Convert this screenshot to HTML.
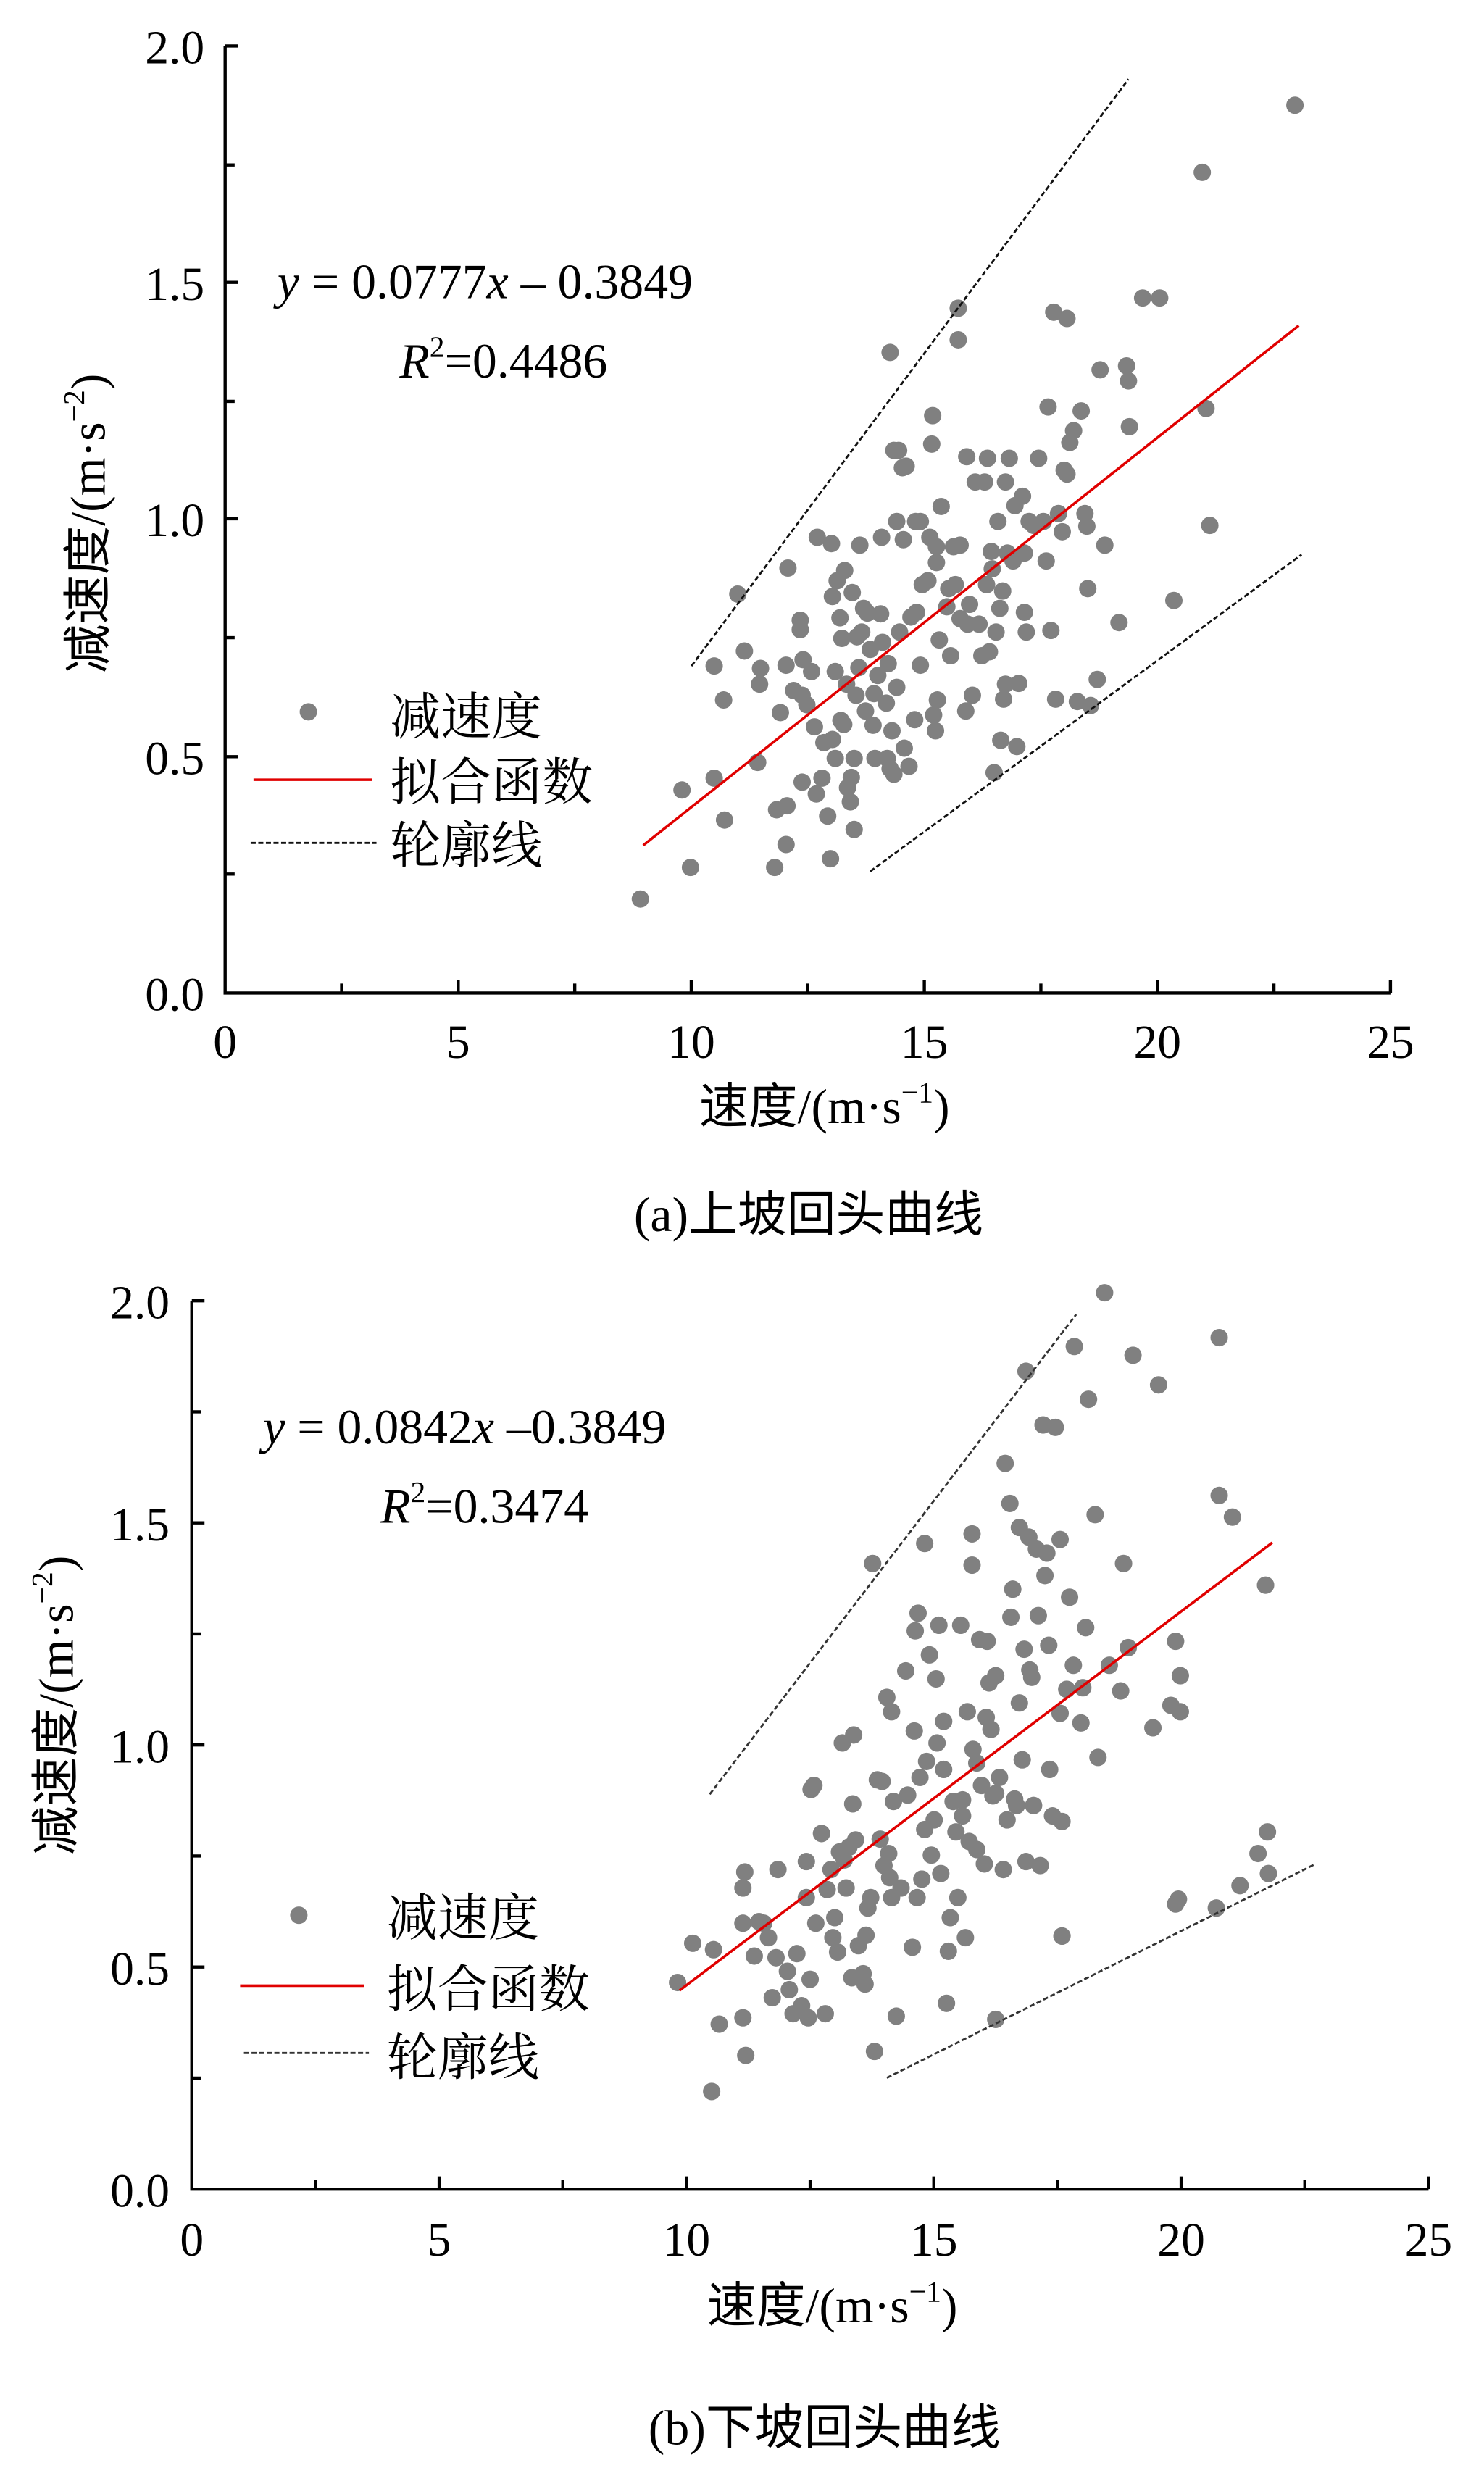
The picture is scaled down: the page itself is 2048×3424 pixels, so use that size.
<!DOCTYPE html>
<html><head><meta charset="utf-8"><style>
html,body{margin:0;padding:0;background:#fff}
svg{display:block}
text{font-family:"Liberation Serif","Noto Serif CJK SC","Noto Sans CJK SC",serif;fill:#000}
.cj{font-family:"Liberation Serif","Noto Sans CJK SC",sans-serif}
</style></head><body>
<svg width="2048" height="3424" viewBox="0 0 936 1564" preserveAspectRatio="none" xmlns="http://www.w3.org/2000/svg">
<!-- ===== TOP CHART ===== -->
<g stroke="#000" stroke-width="2" fill="none">
<path d="M142,29 V626 H877"/>
<path d="M142,29h8 M142,104h6 M142,178h8 M142,253h6 M142,327h8 M142,402h6 M142,477h8 M142,551h6"/>
<path d="M215.5,626v-6 M289,626v-8 M362.5,626v-6 M436,626v-8 M509.5,626v-6 M583,626v-8 M656.5,626v-6 M730,626v-8 M803.5,626v-6 M877,626v-8"/>
</g>
<g font-size="30" text-anchor="end">
<text x="129" y="40">2.0</text><text x="129" y="189">1.5</text><text x="129" y="338">1.0</text><text x="129" y="488">0.5</text><text x="129" y="637">0.0</text>
</g>
<g font-size="30" text-anchor="middle">
<text x="142" y="667">0</text><text x="289" y="667">5</text><text x="436" y="667">10</text><text x="583" y="667">15</text><text x="730" y="667">20</text><text x="877" y="667">25</text>
</g>
<g transform="translate(142,29) scale(0.5966,0.4979) translate(-235,-58)" fill="#808080">
<ellipse cx="674" cy="1138" rx="9.2" ry="11"/><ellipse cx="727" cy="1098" rx="9.2" ry="11"/><ellipse cx="718" cy="1000" rx="9.2" ry="11"/><ellipse cx="752" cy="985" rx="9.2" ry="11"/><ellipse cx="763" cy="1038" rx="9.2" ry="11"/><ellipse cx="762" cy="886" rx="9.2" ry="11"/><ellipse cx="752" cy="843" rx="9.2" ry="11"/><ellipse cx="777" cy="752" rx="9.2" ry="11"/><ellipse cx="784" cy="824" rx="9.2" ry="11"/><ellipse cx="800" cy="866" rx="9.2" ry="11"/><ellipse cx="801" cy="846" rx="9.2" ry="11"/><ellipse cx="798" cy="965" rx="9.2" ry="11"/><ellipse cx="816" cy="1098" rx="9.2" ry="11"/><ellipse cx="818" cy="1025" rx="9.2" ry="11"/><ellipse cx="828" cy="1069" rx="9.2" ry="11"/><ellipse cx="829" cy="1020" rx="9.2" ry="11"/><ellipse cx="822" cy="902" rx="9.2" ry="11"/><ellipse cx="828" cy="842" rx="9.2" ry="11"/><ellipse cx="830" cy="719" rx="9.2" ry="11"/><ellipse cx="836" cy="874" rx="9.2" ry="11"/><ellipse cx="843" cy="785" rx="9.2" ry="11"/><ellipse cx="843" cy="797" rx="9.2" ry="11"/><ellipse cx="846" cy="835" rx="9.2" ry="11"/><ellipse cx="850" cy="892" rx="9.2" ry="11"/><ellipse cx="855" cy="850" rx="9.2" ry="11"/><ellipse cx="845" cy="990" rx="9.2" ry="11"/><ellipse cx="860" cy="1005" rx="9.2" ry="11"/><ellipse cx="866" cy="985" rx="9.2" ry="11"/><ellipse cx="861" cy="680" rx="9.2" ry="11"/><ellipse cx="872" cy="1033" rx="9.2" ry="11"/><ellipse cx="875" cy="1087" rx="9.2" ry="11"/><ellipse cx="877" cy="936" rx="9.2" ry="11"/><ellipse cx="877" cy="755" rx="9.2" ry="11"/><ellipse cx="880" cy="850" rx="9.2" ry="11"/><ellipse cx="876" cy="688" rx="9.2" ry="11"/><ellipse cx="882" cy="735" rx="9.2" ry="11"/><ellipse cx="885" cy="782" rx="9.2" ry="11"/><ellipse cx="887" cy="808" rx="9.2" ry="11"/><ellipse cx="886" cy="912" rx="9.2" ry="11"/><ellipse cx="889" cy="917" rx="9.2" ry="11"/><ellipse cx="890" cy="722" rx="9.2" ry="11"/><ellipse cx="892" cy="866" rx="9.2" ry="11"/><ellipse cx="896" cy="1015" rx="9.2" ry="11"/><ellipse cx="893" cy="997" rx="9.2" ry="11"/><ellipse cx="897" cy="984" rx="9.2" ry="11"/><ellipse cx="898" cy="750" rx="9.2" ry="11"/><ellipse cx="900" cy="960" rx="9.2" ry="11"/><ellipse cx="902" cy="880" rx="9.2" ry="11"/><ellipse cx="906" cy="690" rx="9.2" ry="11"/><ellipse cx="903" cy="806" rx="9.2" ry="11"/><ellipse cx="905" cy="845" rx="9.2" ry="11"/><ellipse cx="908" cy="800" rx="9.2" ry="11"/><ellipse cx="910" cy="770" rx="9.2" ry="11"/><ellipse cx="912" cy="900" rx="9.2" ry="11"/><ellipse cx="914" cy="776" rx="9.2" ry="11"/><ellipse cx="917" cy="822" rx="9.2" ry="11"/><ellipse cx="920" cy="918" rx="9.2" ry="11"/><ellipse cx="921" cy="878" rx="9.2" ry="11"/><ellipse cx="922" cy="960" rx="9.2" ry="11"/><ellipse cx="925" cy="855" rx="9.2" ry="11"/><ellipse cx="928" cy="777" rx="9.2" ry="11"/><ellipse cx="929" cy="680" rx="9.2" ry="11"/><ellipse cx="930" cy="813" rx="9.2" ry="11"/><ellipse cx="934" cy="890" rx="9.2" ry="11"/><ellipse cx="936" cy="840" rx="9.2" ry="11"/><ellipse cx="938" cy="973" rx="9.2" ry="11"/><ellipse cx="940" cy="925" rx="9.2" ry="11"/><ellipse cx="942" cy="980" rx="9.2" ry="11"/><ellipse cx="945" cy="870" rx="9.2" ry="11"/><ellipse cx="947" cy="570" rx="9.2" ry="11"/><ellipse cx="945" cy="660" rx="9.2" ry="11"/><ellipse cx="948" cy="800" rx="9.2" ry="11"/><ellipse cx="952" cy="683" rx="9.2" ry="11"/><ellipse cx="953" cy="947" rx="9.2" ry="11"/><ellipse cx="955" cy="590" rx="9.2" ry="11"/><ellipse cx="958" cy="970" rx="9.2" ry="11"/><ellipse cx="960" cy="781" rx="9.2" ry="11"/><ellipse cx="964" cy="911" rx="9.2" ry="11"/><ellipse cx="966" cy="775" rx="9.2" ry="11"/><ellipse cx="970" cy="660" rx="9.2" ry="11"/><ellipse cx="970" cy="842" rx="9.2" ry="11"/><ellipse cx="972" cy="740" rx="9.2" ry="11"/><ellipse cx="978" cy="735" rx="9.2" ry="11"/><ellipse cx="980" cy="680" rx="9.2" ry="11"/><ellipse cx="982" cy="562" rx="9.2" ry="11"/><ellipse cx="983" cy="526" rx="9.2" ry="11"/><ellipse cx="984" cy="905" rx="9.2" ry="11"/><ellipse cx="986" cy="925" rx="9.2" ry="11"/><ellipse cx="987" cy="692" rx="9.2" ry="11"/><ellipse cx="987" cy="712" rx="9.2" ry="11"/><ellipse cx="988" cy="886" rx="9.2" ry="11"/><ellipse cx="990" cy="810" rx="9.2" ry="11"/><ellipse cx="992" cy="641" rx="9.2" ry="11"/><ellipse cx="998" cy="768" rx="9.2" ry="11"/><ellipse cx="1000" cy="745" rx="9.2" ry="11"/><ellipse cx="1002" cy="830" rx="9.2" ry="11"/><ellipse cx="1005" cy="692" rx="9.2" ry="11"/><ellipse cx="1007" cy="740" rx="9.2" ry="11"/><ellipse cx="1010" cy="430" rx="9.2" ry="11"/><ellipse cx="1010" cy="390" rx="9.2" ry="11"/><ellipse cx="1012" cy="783" rx="9.2" ry="11"/><ellipse cx="1018" cy="900" rx="9.2" ry="11"/><ellipse cx="1019" cy="578" rx="9.2" ry="11"/><ellipse cx="1020" cy="790" rx="9.2" ry="11"/><ellipse cx="1022" cy="765" rx="9.2" ry="11"/><ellipse cx="1025" cy="880" rx="9.2" ry="11"/><ellipse cx="1028" cy="610" rx="9.2" ry="11"/><ellipse cx="1032" cy="790" rx="9.2" ry="11"/><ellipse cx="1038" cy="610" rx="9.2" ry="11"/><ellipse cx="1040" cy="740" rx="9.2" ry="11"/><ellipse cx="1041" cy="580" rx="9.2" ry="11"/><ellipse cx="1043" cy="825" rx="9.2" ry="11"/><ellipse cx="1045" cy="698" rx="9.2" ry="11"/><ellipse cx="1046" cy="720" rx="9.2" ry="11"/><ellipse cx="1048" cy="978" rx="9.2" ry="11"/><ellipse cx="1050" cy="800" rx="9.2" ry="11"/><ellipse cx="1052" cy="660" rx="9.2" ry="11"/><ellipse cx="1054" cy="770" rx="9.2" ry="11"/><ellipse cx="1055" cy="937" rx="9.2" ry="11"/><ellipse cx="1057" cy="748" rx="9.2" ry="11"/><ellipse cx="1058" cy="885" rx="9.2" ry="11"/><ellipse cx="1060" cy="610" rx="9.2" ry="11"/><ellipse cx="1062" cy="700" rx="9.2" ry="11"/><ellipse cx="1064" cy="580" rx="9.2" ry="11"/><ellipse cx="1068" cy="710" rx="9.2" ry="11"/><ellipse cx="1070" cy="640" rx="9.2" ry="11"/><ellipse cx="1072" cy="945" rx="9.2" ry="11"/><ellipse cx="1074" cy="865" rx="9.2" ry="11"/><ellipse cx="1078" cy="628" rx="9.2" ry="11"/><ellipse cx="1080" cy="700" rx="9.2" ry="11"/><ellipse cx="1080" cy="775" rx="9.2" ry="11"/><ellipse cx="1082" cy="800" rx="9.2" ry="11"/><ellipse cx="1085" cy="660" rx="9.2" ry="11"/><ellipse cx="1090" cy="665" rx="9.2" ry="11"/><ellipse cx="1095" cy="580" rx="9.2" ry="11"/><ellipse cx="1100" cy="660" rx="9.2" ry="11"/><ellipse cx="1103" cy="710" rx="9.2" ry="11"/><ellipse cx="1105" cy="515" rx="9.2" ry="11"/><ellipse cx="1108" cy="798" rx="9.2" ry="11"/><ellipse cx="1111" cy="395" rx="9.2" ry="11"/><ellipse cx="1113" cy="885" rx="9.2" ry="11"/><ellipse cx="1116" cy="650" rx="9.2" ry="11"/><ellipse cx="1120" cy="673" rx="9.2" ry="11"/><ellipse cx="1122" cy="595" rx="9.2" ry="11"/><ellipse cx="1125" cy="403" rx="9.2" ry="11"/><ellipse cx="1125" cy="600" rx="9.2" ry="11"/><ellipse cx="1128" cy="560" rx="9.2" ry="11"/><ellipse cx="1132" cy="545" rx="9.2" ry="11"/><ellipse cx="1136" cy="888" rx="9.2" ry="11"/><ellipse cx="1140" cy="520" rx="9.2" ry="11"/><ellipse cx="1144" cy="650" rx="9.2" ry="11"/><ellipse cx="1146" cy="666" rx="9.2" ry="11"/><ellipse cx="1147" cy="745" rx="9.2" ry="11"/><ellipse cx="1150" cy="893" rx="9.2" ry="11"/><ellipse cx="1157" cy="860" rx="9.2" ry="11"/><ellipse cx="1160" cy="468" rx="9.2" ry="11"/><ellipse cx="1165" cy="690" rx="9.2" ry="11"/><ellipse cx="1180" cy="788" rx="9.2" ry="11"/><ellipse cx="1188" cy="463" rx="9.2" ry="11"/><ellipse cx="1190" cy="482" rx="9.2" ry="11"/><ellipse cx="1191" cy="540" rx="9.2" ry="11"/><ellipse cx="1223" cy="377" rx="9.2" ry="11"/><ellipse cx="1205" cy="377" rx="9.2" ry="11"/><ellipse cx="1238" cy="760" rx="9.2" ry="11"/><ellipse cx="1268" cy="218" rx="9.2" ry="11"/><ellipse cx="1272" cy="517" rx="9.2" ry="11"/><ellipse cx="1276" cy="665" rx="9.2" ry="11"/><ellipse cx="1366" cy="133" rx="9.2" ry="11"/><ellipse cx="1060" cy="866" rx="9.2" ry="11"/><ellipse cx="1035" cy="830" rx="9.2" ry="11"/><ellipse cx="965" cy="660" rx="9.2" ry="11"/><ellipse cx="900" cy="1050" rx="9.2" ry="11"/><ellipse cx="880" cy="960" rx="9.2" ry="11"/><ellipse cx="868" cy="940" rx="9.2" ry="11"/><ellipse cx="858" cy="920" rx="9.2" ry="11"/><ellipse cx="845" cy="880" rx="9.2" ry="11"/><ellipse cx="938" cy="446" rx="9.2" ry="11"/><ellipse cx="942" cy="570" rx="9.2" ry="11"/><ellipse cx="951" cy="592" rx="9.2" ry="11"/><ellipse cx="935" cy="960" rx="9.2" ry="11"/><ellipse cx="1012" cy="690" rx="9.2" ry="11"/>
<ellipse cx="323" cy="901" rx="9.2" ry="11"/>
<line x1="677" y1="1070" x2="1370" y2="412" stroke="#e00000" stroke-width="3.6" vector-effect="non-scaling-stroke"/>
<line x1="728" y1="843" x2="1190" y2="100" stroke="#111" stroke-width="2.8" stroke-dasharray="7,3.5" vector-effect="non-scaling-stroke"/>
<line x1="917" y1="1103" x2="1373" y2="702" stroke="#111" stroke-width="2.8" stroke-dasharray="7,3.5" vector-effect="non-scaling-stroke"/>
<line x1="265" y1="987" x2="390" y2="987" stroke="#e00000" stroke-width="3.6" vector-effect="non-scaling-stroke"/>
<line x1="262" y1="1067" x2="395" y2="1067" stroke="#111" stroke-width="2.8" stroke-dasharray="7,3.5" vector-effect="non-scaling-stroke"/>
</g>
<g font-size="32" class="cj">
<text x="246" y="463">减速度</text><text x="246" y="504">拟合函数</text><text x="246" y="544">轮廓线</text>
</g>
<text x="175" y="188" font-size="31"><tspan font-style="italic">y</tspan> = 0.0777<tspan font-style="italic">x</tspan> – 0.3849</text>
<text x="252" y="238" font-size="31"><tspan font-style="italic">R</tspan><tspan font-size="19" dy="-13">2</tspan><tspan dy="13">=0.4486</tspan></text>
<text transform="translate(66,330) rotate(-90)" text-anchor="middle" font-size="31" class="cj">减速度/(m·s<tspan font-size="19" dy="-13">−2</tspan><tspan dy="13">)</tspan></text>
<text x="520" y="708" text-anchor="middle" font-size="31" class="cj">速度/(m·s<tspan font-size="19" dy="-13">−1</tspan><tspan dy="13">)</tspan></text>
<text x="510" y="776" text-anchor="middle" font-size="31" class="cj">(a)上坡回头曲线</text>

<!-- ===== BOTTOM CHART ===== -->
<g stroke="#000" stroke-width="2" fill="none">
<path d="M121,820 V1380 H901"/>
<path d="M121,820h8 M121,890h6 M121,960h8 M121,1030h6 M121,1100h8 M121,1170h6 M121,1240h8 M121,1310h6"/>
<path d="M199,1380v-6 M277,1380v-8 M355,1380v-6 M433,1380v-8 M511,1380v-6 M589,1380v-8 M667,1380v-6 M745,1380v-8 M823,1380v-6 M901,1380v-8"/>
</g>
<g font-size="30" text-anchor="end">
<text x="107" y="831">2.0</text><text x="107" y="971">1.5</text><text x="107" y="1111">1.0</text><text x="107" y="1251">0.5</text><text x="107" y="1391">0.0</text>
</g>
<g font-size="30" text-anchor="middle">
<text x="121" y="1422">0</text><text x="277" y="1422">5</text><text x="433" y="1422">10</text><text x="589" y="1422">15</text><text x="745" y="1422">20</text><text x="901" y="1422">25</text>
</g>
<g transform="translate(121,820) scale(0.5972,0.505) translate(-201,-85)" fill="#808080">
<ellipse cx="714" cy="936" rx="9.2" ry="10.9"/><ellipse cx="730" cy="887" rx="9.2" ry="10.9"/><ellipse cx="752" cy="895" rx="9.2" ry="10.9"/><ellipse cx="750" cy="1072" rx="9.2" ry="10.9"/><ellipse cx="758" cy="988" rx="9.2" ry="10.9"/><ellipse cx="783" cy="980" rx="9.2" ry="10.9"/><ellipse cx="786" cy="1027" rx="9.2" ry="10.9"/><ellipse cx="783" cy="818" rx="9.2" ry="10.9"/><ellipse cx="785" cy="798" rx="9.2" ry="10.9"/><ellipse cx="783" cy="862" rx="9.2" ry="10.9"/><ellipse cx="795" cy="903" rx="9.2" ry="10.9"/><ellipse cx="800" cy="860" rx="9.2" ry="10.9"/><ellipse cx="805" cy="862" rx="9.2" ry="10.9"/><ellipse cx="810" cy="880" rx="9.2" ry="10.9"/><ellipse cx="814" cy="955" rx="9.2" ry="10.9"/><ellipse cx="820" cy="795" rx="9.2" ry="10.9"/><ellipse cx="818" cy="905" rx="9.2" ry="10.9"/><ellipse cx="830" cy="922" rx="9.2" ry="10.9"/><ellipse cx="832" cy="945" rx="9.2" ry="10.9"/><ellipse cx="836" cy="975" rx="9.2" ry="10.9"/><ellipse cx="840" cy="900" rx="9.2" ry="10.9"/><ellipse cx="845" cy="965" rx="9.2" ry="10.9"/><ellipse cx="850" cy="830" rx="9.2" ry="10.9"/><ellipse cx="850" cy="785" rx="9.2" ry="10.9"/><ellipse cx="852" cy="980" rx="9.2" ry="10.9"/><ellipse cx="854" cy="932" rx="9.2" ry="10.9"/><ellipse cx="855" cy="695" rx="9.2" ry="10.9"/><ellipse cx="858" cy="690" rx="9.2" ry="10.9"/><ellipse cx="860" cy="862" rx="9.2" ry="10.9"/><ellipse cx="866" cy="750" rx="9.2" ry="10.9"/><ellipse cx="870" cy="975" rx="9.2" ry="10.9"/><ellipse cx="872" cy="820" rx="9.2" ry="10.9"/><ellipse cx="876" cy="795" rx="9.2" ry="10.9"/><ellipse cx="878" cy="880" rx="9.2" ry="10.9"/><ellipse cx="880" cy="855" rx="9.2" ry="10.9"/><ellipse cx="883" cy="898" rx="9.2" ry="10.9"/><ellipse cx="885" cy="773" rx="9.2" ry="10.9"/><ellipse cx="888" cy="637" rx="9.2" ry="10.9"/><ellipse cx="890" cy="783" rx="9.2" ry="10.9"/><ellipse cx="892" cy="818" rx="9.2" ry="10.9"/><ellipse cx="895" cy="767" rx="9.2" ry="10.9"/><ellipse cx="898" cy="930" rx="9.2" ry="10.9"/><ellipse cx="899" cy="713" rx="9.2" ry="10.9"/><ellipse cx="900" cy="627" rx="9.2" ry="10.9"/><ellipse cx="902" cy="758" rx="9.2" ry="10.9"/><ellipse cx="905" cy="890" rx="9.2" ry="10.9"/><ellipse cx="910" cy="925" rx="9.2" ry="10.9"/><ellipse cx="912" cy="938" rx="9.2" ry="10.9"/><ellipse cx="913" cy="877" rx="9.2" ry="10.9"/><ellipse cx="915" cy="843" rx="9.2" ry="10.9"/><ellipse cx="918" cy="830" rx="9.2" ry="10.9"/><ellipse cx="920" cy="413" rx="9.2" ry="10.9"/><ellipse cx="922" cy="1022" rx="9.2" ry="10.9"/><ellipse cx="925" cy="683" rx="9.2" ry="10.9"/><ellipse cx="928" cy="757" rx="9.2" ry="10.9"/><ellipse cx="930" cy="685" rx="9.2" ry="10.9"/><ellipse cx="932" cy="790" rx="9.2" ry="10.9"/><ellipse cx="935" cy="580" rx="9.2" ry="10.9"/><ellipse cx="937" cy="775" rx="9.2" ry="10.9"/><ellipse cx="938" cy="805" rx="9.2" ry="10.9"/><ellipse cx="940" cy="598" rx="9.2" ry="10.9"/><ellipse cx="940" cy="830" rx="9.2" ry="10.9"/><ellipse cx="942" cy="710" rx="9.2" ry="10.9"/><ellipse cx="945" cy="978" rx="9.2" ry="10.9"/><ellipse cx="950" cy="818" rx="9.2" ry="10.9"/><ellipse cx="955" cy="547" rx="9.2" ry="10.9"/><ellipse cx="957" cy="702" rx="9.2" ry="10.9"/><ellipse cx="962" cy="892" rx="9.2" ry="10.9"/><ellipse cx="964" cy="622" rx="9.2" ry="10.9"/><ellipse cx="965" cy="497" rx="9.2" ry="10.9"/><ellipse cx="967" cy="830" rx="9.2" ry="10.9"/><ellipse cx="968" cy="475" rx="9.2" ry="10.9"/><ellipse cx="970" cy="680" rx="9.2" ry="10.9"/><ellipse cx="972" cy="807" rx="9.2" ry="10.9"/><ellipse cx="975" cy="388" rx="9.2" ry="10.9"/><ellipse cx="975" cy="745" rx="9.2" ry="10.9"/><ellipse cx="977" cy="660" rx="9.2" ry="10.9"/><ellipse cx="980" cy="527" rx="9.2" ry="10.9"/><ellipse cx="982" cy="777" rx="9.2" ry="10.9"/><ellipse cx="985" cy="733" rx="9.2" ry="10.9"/><ellipse cx="987" cy="557" rx="9.2" ry="10.9"/><ellipse cx="988" cy="637" rx="9.2" ry="10.9"/><ellipse cx="990" cy="490" rx="9.2" ry="10.9"/><ellipse cx="992" cy="800" rx="9.2" ry="10.9"/><ellipse cx="995" cy="670" rx="9.2" ry="10.9"/><ellipse cx="995" cy="610" rx="9.2" ry="10.9"/><ellipse cx="998" cy="962" rx="9.2" ry="10.9"/><ellipse cx="1000" cy="897" rx="9.2" ry="10.9"/><ellipse cx="1002" cy="855" rx="9.2" ry="10.9"/><ellipse cx="1005" cy="710" rx="9.2" ry="10.9"/><ellipse cx="1008" cy="748" rx="9.2" ry="10.9"/><ellipse cx="1010" cy="830" rx="9.2" ry="10.9"/><ellipse cx="1013" cy="490" rx="9.2" ry="10.9"/><ellipse cx="1015" cy="728" rx="9.2" ry="10.9"/><ellipse cx="1015" cy="708" rx="9.2" ry="10.9"/><ellipse cx="1018" cy="880" rx="9.2" ry="10.9"/><ellipse cx="1020" cy="598" rx="9.2" ry="10.9"/><ellipse cx="1022" cy="760" rx="9.2" ry="10.9"/><ellipse cx="1025" cy="376" rx="9.2" ry="10.9"/><ellipse cx="1025" cy="415" rx="9.2" ry="10.9"/><ellipse cx="1026" cy="645" rx="9.2" ry="10.9"/><ellipse cx="1030" cy="770" rx="9.2" ry="10.9"/><ellipse cx="1030" cy="662" rx="9.2" ry="10.9"/><ellipse cx="1033" cy="508" rx="9.2" ry="10.9"/><ellipse cx="1035" cy="690" rx="9.2" ry="10.9"/><ellipse cx="1038" cy="788" rx="9.2" ry="10.9"/><ellipse cx="1040" cy="605" rx="9.2" ry="10.9"/><ellipse cx="1041" cy="510" rx="9.2" ry="10.9"/><ellipse cx="1043" cy="562" rx="9.2" ry="10.9"/><ellipse cx="1045" cy="620" rx="9.2" ry="10.9"/><ellipse cx="1047" cy="703" rx="9.2" ry="10.9"/><ellipse cx="1050" cy="553" rx="9.2" ry="10.9"/><ellipse cx="1050" cy="700" rx="9.2" ry="10.9"/><ellipse cx="1054" cy="680" rx="9.2" ry="10.9"/><ellipse cx="1058" cy="795" rx="9.2" ry="10.9"/><ellipse cx="1060" cy="288" rx="9.2" ry="10.9"/><ellipse cx="1062" cy="733" rx="9.2" ry="10.9"/><ellipse cx="1065" cy="338" rx="9.2" ry="10.9"/><ellipse cx="1066" cy="480" rx="9.2" ry="10.9"/><ellipse cx="1068" cy="445" rx="9.2" ry="10.9"/><ellipse cx="1070" cy="707" rx="9.2" ry="10.9"/><ellipse cx="1072" cy="715" rx="9.2" ry="10.9"/><ellipse cx="1075" cy="587" rx="9.2" ry="10.9"/><ellipse cx="1075" cy="368" rx="9.2" ry="10.9"/><ellipse cx="1078" cy="658" rx="9.2" ry="10.9"/><ellipse cx="1080" cy="520" rx="9.2" ry="10.9"/><ellipse cx="1082" cy="173" rx="9.2" ry="10.9"/><ellipse cx="1082" cy="785" rx="9.2" ry="10.9"/><ellipse cx="1085" cy="380" rx="9.2" ry="10.9"/><ellipse cx="1086" cy="546" rx="9.2" ry="10.9"/><ellipse cx="1088" cy="555" rx="9.2" ry="10.9"/><ellipse cx="1090" cy="715" rx="9.2" ry="10.9"/><ellipse cx="1093" cy="395" rx="9.2" ry="10.9"/><ellipse cx="1095" cy="478" rx="9.2" ry="10.9"/><ellipse cx="1097" cy="790" rx="9.2" ry="10.9"/><ellipse cx="1100" cy="240" rx="9.2" ry="10.9"/><ellipse cx="1102" cy="428" rx="9.2" ry="10.9"/><ellipse cx="1104" cy="400" rx="9.2" ry="10.9"/><ellipse cx="1106" cy="515" rx="9.2" ry="10.9"/><ellipse cx="1107" cy="670" rx="9.2" ry="10.9"/><ellipse cx="1110" cy="728" rx="9.2" ry="10.9"/><ellipse cx="1113" cy="243" rx="9.2" ry="10.9"/><ellipse cx="1118" cy="383" rx="9.2" ry="10.9"/><ellipse cx="1118" cy="600" rx="9.2" ry="10.9"/><ellipse cx="1120" cy="878" rx="9.2" ry="10.9"/><ellipse cx="1120" cy="735" rx="9.2" ry="10.9"/><ellipse cx="1125" cy="570" rx="9.2" ry="10.9"/><ellipse cx="1128" cy="455" rx="9.2" ry="10.9"/><ellipse cx="1132" cy="540" rx="9.2" ry="10.9"/><ellipse cx="1133" cy="142" rx="9.2" ry="10.9"/><ellipse cx="1140" cy="612" rx="9.2" ry="10.9"/><ellipse cx="1142" cy="568" rx="9.2" ry="10.9"/><ellipse cx="1145" cy="493" rx="9.2" ry="10.9"/><ellipse cx="1148" cy="208" rx="9.2" ry="10.9"/><ellipse cx="1155" cy="352" rx="9.2" ry="10.9"/><ellipse cx="1158" cy="655" rx="9.2" ry="10.9"/><ellipse cx="1165" cy="75" rx="9.2" ry="10.9"/><ellipse cx="1170" cy="540" rx="9.2" ry="10.9"/><ellipse cx="1182" cy="572" rx="9.2" ry="10.9"/><ellipse cx="1185" cy="413" rx="9.2" ry="10.9"/><ellipse cx="1190" cy="518" rx="9.2" ry="10.9"/><ellipse cx="1195" cy="153" rx="9.2" ry="10.9"/><ellipse cx="1216" cy="618" rx="9.2" ry="10.9"/><ellipse cx="1222" cy="190" rx="9.2" ry="10.9"/><ellipse cx="1235" cy="590" rx="9.2" ry="10.9"/><ellipse cx="1240" cy="510" rx="9.2" ry="10.9"/><ellipse cx="1240" cy="838" rx="9.2" ry="10.9"/><ellipse cx="1245" cy="553" rx="9.2" ry="10.9"/><ellipse cx="1245" cy="598" rx="9.2" ry="10.9"/><ellipse cx="1243" cy="832" rx="9.2" ry="10.9"/><ellipse cx="1286" cy="131" rx="9.2" ry="10.9"/><ellipse cx="1286" cy="328" rx="9.2" ry="10.9"/><ellipse cx="1300" cy="355" rx="9.2" ry="10.9"/><ellipse cx="1308" cy="815" rx="9.2" ry="10.9"/><ellipse cx="1327" cy="775" rx="9.2" ry="10.9"/><ellipse cx="1335" cy="440" rx="9.2" ry="10.9"/><ellipse cx="1337" cy="748" rx="9.2" ry="10.9"/><ellipse cx="1338" cy="800" rx="9.2" ry="10.9"/><ellipse cx="1283" cy="843" rx="9.2" ry="10.9"/><ellipse cx="1050" cy="982" rx="9.2" ry="10.9"/><ellipse cx="1120" cy="878" rx="9.2" ry="10.9"/>
<ellipse cx="314" cy="852" rx="9.2" ry="10.9"/>
<line x1="716" y1="946" x2="1342" y2="387" stroke="#e00000" stroke-width="3.6" vector-effect="non-scaling-stroke"/>
<line x1="748" y1="701" x2="1135" y2="102" stroke="#333" stroke-width="2.8" stroke-dasharray="7,3.5" vector-effect="non-scaling-stroke"/>
<line x1="935" y1="1055" x2="1386" y2="789" stroke="#333" stroke-width="2.8" stroke-dasharray="7,3.5" vector-effect="non-scaling-stroke"/>
<line x1="252" y1="940" x2="383" y2="940" stroke="#e00000" stroke-width="3.6" vector-effect="non-scaling-stroke"/>
<line x1="256" y1="1024" x2="388" y2="1024" stroke="#333" stroke-width="2.8" stroke-dasharray="7,3.5" vector-effect="non-scaling-stroke"/>
</g>
<g font-size="32" class="cj">
<text x="244" y="1220">减速度</text><text x="244" y="1265">拟合函数</text><text x="244" y="1308">轮廓线</text>
</g>
<text x="166" y="910" font-size="31"><tspan font-style="italic">y</tspan> = 0.0842<tspan font-style="italic">x</tspan> –0.3849</text>
<text x="240" y="960" font-size="31"><tspan font-style="italic">R</tspan><tspan font-size="19" dy="-13">2</tspan><tspan dy="13">=0.3474</tspan></text>
<text transform="translate(46,1075) rotate(-90)" text-anchor="middle" font-size="31" class="cj">减速度/(m·s<tspan font-size="19" dy="-13">−2</tspan><tspan dy="13">)</tspan></text>
<text x="525" y="1464" text-anchor="middle" font-size="31" class="cj">速度/(m·s<tspan font-size="19" dy="-13">−1</tspan><tspan dy="13">)</tspan></text>
<text x="520" y="1541" text-anchor="middle" font-size="31" class="cj">(b)下坡回头曲线</text>
</svg>
</body></html>
